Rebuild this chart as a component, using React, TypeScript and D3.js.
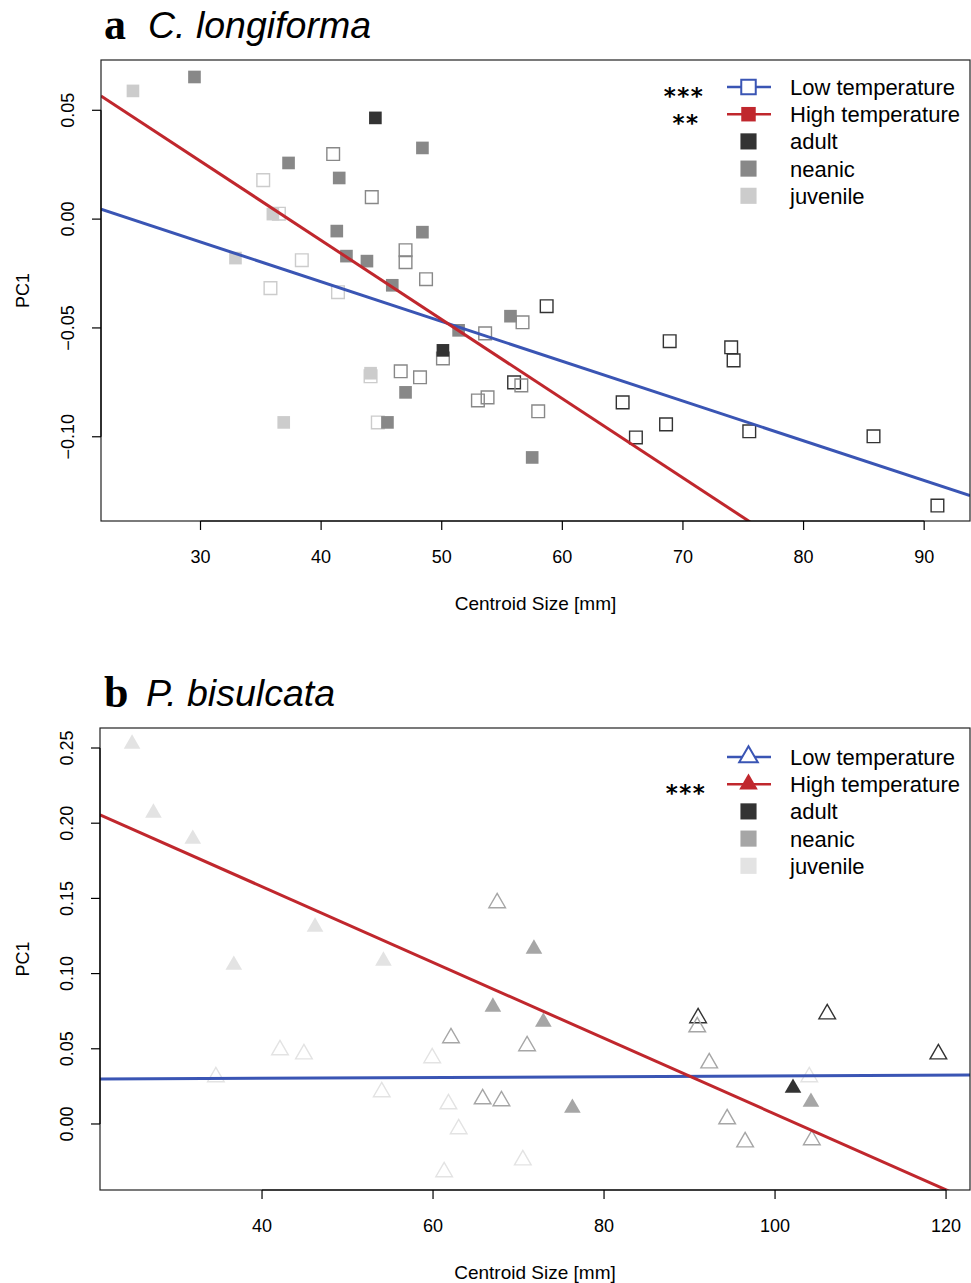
import React from 'react';
import * as d3 from 'd3';

// ---------- Panel a: C. longiforma (squares) ----------
// [centroid size mm, PC1]
const aLowAdult: [number, number][] = [
  [58.7, -0.040], [68.9, -0.0561], [74.0, -0.0589], [74.2, -0.0649], [65.0, -0.0842],
  [66.1, -0.1003], [68.6, -0.0943], [75.5, -0.0975], [85.8, -0.0998], [91.1, -0.1316], [56.0, -0.0750],
];
const aLowNeanic: [number, number][] = [
  [41.0, 0.0299], [44.2, 0.0101], [47.0, -0.0143], [47.0, -0.0198], [48.7, -0.0276],
  [53.6, -0.0525], [56.7, -0.0474], [50.1, -0.0640], [46.6, -0.0699], [48.2, -0.0727],
  [56.6, -0.0764], [53.0, -0.0833], [53.8, -0.0819], [58.0, -0.0883],
];
const aLowJuvenile: [number, number][] = [
  [35.2, 0.0179], [38.4, -0.0189], [35.8, -0.0317], [41.4, -0.0336], [44.7, -0.0934],
  [44.1, -0.0722], [36.5, 0.0025],
];
const aHighAdult: [number, number][] = [[44.5, 0.0465], [50.1, -0.0603]];
const aHighNeanic: [number, number][] = [
  [29.5, 0.0653], [37.3, 0.0258], [41.5, 0.0189], [48.4, 0.0327], [41.3, -0.0055],
  [48.4, -0.006], [42.1, -0.017], [43.8, -0.0193], [45.9, -0.0304], [51.4, -0.0511],
  [55.7, -0.0446], [47.0, -0.0796], [45.5, -0.0934], [57.5, -0.1095],
];
const aHighJuvenile: [number, number][] = [
  [24.4, 0.0589], [36.0, 0.0023], [32.9, -0.0179], [44.1, -0.0708], [36.9, -0.0934],
];
// regression [intercept, slope]
const aLowFit: [number, number] = [0.0443, -0.001827];
const aHighFit: [number, number] = [0.1357, -0.003637];
const aXTicks = [30, 40, 50, 60, 70, 80, 90];
const aYTicks = [0.05, 0.0, -0.05, -0.1];
const aYTickLabels = ['0.05', '0.00', '\u22120.05', '\u22120.10'];
const aSignif = ['***', '**'];

// ---------- Panel b: P. bisulcata (triangles) ----------
const bLowAdult: [number, number][] = [[91.0, 0.0705], [106.1, 0.0731], [119.1, 0.0465]];
const bLowNeanic: [number, number][] = [
  [67.5, 0.147], [62.1, 0.0572], [71.0, 0.0519], [65.8, 0.0166], [68.0, 0.0153],
  [90.9, 0.0645], [92.3, 0.0405], [94.4, 0.0033], [96.5, -0.012], [104.3, -0.0106],
];
const bLowJuvenile: [number, number][] = [
  [42.1, 0.0492], [44.9, 0.0465], [34.6, 0.0313], [59.9, 0.0439], [54.0, 0.0213],
  [61.8, 0.0133], [63.0, -0.0033], [70.5, -0.024], [61.3, -0.0319], [104.0, 0.0313],
];
const bHighAdult: [number, number][] = [[102.1, 0.0239]];
const bHighNeanic: [number, number][] = [
  [71.8, 0.1164], [67.0, 0.0778], [72.9, 0.0678], [76.3, 0.0106], [104.2, 0.0146],
];
const bHighJuvenile: [number, number][] = [
  [24.8, 0.2527], [27.3, 0.2068], [31.9, 0.1895], [46.2, 0.131], [36.7, 0.1057], [54.2, 0.1084],
];
const bLowFit: [number, number] = [0.0293, 0.0000265];
const bHighFit: [number, number] = [0.2586, -0.00252];
const bXTicks = [40, 60, 80, 100, 120];
const bYTicks = [0.0, 0.05, 0.1, 0.15, 0.2, 0.25];
const bYTickLabels = ['0.00', '0.05', '0.10', '0.15', '0.20', '0.25'];
const bSignif = ['', '***'];

const legendLabels = ['Low temperature', 'High temperature', 'adult', 'neanic', 'juvenile'];

const FONT = '"Liberation Sans", Arial, Helvetica, sans-serif';
const BLUE = '#3a55b4';
const RED = '#c0272d';

type Pts = [number, number][];
interface PanelProps {
  letter: string;
  species: string;
  titleY: number;
  box: { l: number; r: number; t: number; b: number };
  xDomain: [number, number];
  yDomain: [number, number];
  xTicks: number[];
  yTicks: number[];
  yTickLabels: string[];
  low: Pts[];
  high: Pts[];
  lowFit: [number, number];
  highFit: [number, number];
  stageColors: string[];
  shape: 'square' | 'triangle';
  signif: string[];
  legendY: number;
  id: string;
}

function Panel(p: PanelProps) {
  const { box } = p;
  const x = d3.scaleLinear().domain(p.xDomain).range([box.l, box.r]);
  const y = d3.scaleLinear().domain(p.yDomain).range([box.b, box.t]);
  const symType = p.shape === 'square' ? d3.symbolSquare : d3.symbolTriangle;
  const symSize = p.shape === 'square' ? 160 : 120;
  const sym = d3.symbol(symType, symSize)()!;
  const legSym = d3.symbol(symType, p.shape === 'square' ? 210 : 150)()!;
  const legSq = d3.symbol(d3.symbolSquare, 260)()!;
  const fitLine = (f: [number, number]) => {
    const [x0, x1] = p.xDomain;
    return d3.line()([
      [x(x0), y(f[0] + f[1] * x0)],
      [x(x1), y(f[0] + f[1] * x1)],
    ])!;
  };
  const rows = p.legendY;
  const rowGap = 27.2;
  const xMid = (box.t + box.b) / 2;
  return (
    <g fontFamily={FONT}>
      <text x={104} y={p.titleY + 1} fontFamily='"Liberation Serif", "DejaVu Serif", serif' fontWeight="bold" fontSize={44}>
        {p.letter}
      </text>
      <text x={p.letter === 'a' ? 148 : 146} y={p.titleY} fontStyle="italic" fontSize={37.5}>
        {p.species}
      </text>
      <defs>
        <clipPath id={'clip' + p.id}>
          <rect x={box.l} y={box.t} width={box.r - box.l} height={box.b - box.t} />
        </clipPath>
      </defs>
      {/* points */}
      <g>
        {p.low.map((pts, si) =>
          pts.map((d, i) => (
            <path key={'l' + si + '-' + i} d={sym} transform={`translate(${x(d[0])},${y(d[1])})`}
              fill="none" stroke={p.stageColors[si]} strokeWidth={1.4} />
          ))
        )}
        {p.high.map((pts, si) =>
          pts.map((d, i) => (
            <path key={'h' + si + '-' + i} d={sym} transform={`translate(${x(d[0])},${y(d[1])})`}
              fill={p.stageColors[si]} stroke="none" />
          ))
        )}
      </g>
      <g clipPath={`url(#clip${p.id})`}>
        <path d={fitLine(p.lowFit)} stroke={BLUE} strokeWidth={3} fill="none" />
        <path d={fitLine(p.highFit)} stroke={RED} strokeWidth={3} fill="none" />
      </g>
      {/* box */}
      <rect x={box.l} y={box.t} width={box.r - box.l} height={box.b - box.t} fill="none" stroke="#222" strokeWidth={1.2} />
      {/* x axis */}
      <line x1={x(p.xTicks[0])} x2={x(p.xTicks[p.xTicks.length - 1])} y1={box.b} y2={box.b} stroke="#000" strokeWidth={1.2} />
      {p.xTicks.map((t) => (
        <g key={'xt' + t}>
          <line x1={x(t)} x2={x(t)} y1={box.b} y2={box.b + 9} stroke="#000" strokeWidth={1.2} />
          <text x={x(t)} y={box.b + 42} textAnchor="middle" fontSize={18}>{t}</text>
        </g>
      ))}
      <text x={(box.l + box.r) / 2} y={box.b + 89} textAnchor="middle" fontSize={19}>Centroid Size [mm]</text>
      {/* y axis */}
      <line x1={box.l} x2={box.l} y1={y(d3.min(p.yTicks)!)} y2={y(d3.max(p.yTicks)!)} stroke="#000" strokeWidth={1.2} />
      {p.yTicks.map((t, i) => (
        <g key={'yt' + i}>
          <line x1={box.l - 9} x2={box.l} y1={y(t)} y2={y(t)} stroke="#000" strokeWidth={1.2} />
          <text transform={`translate(${box.l - 27},${y(t)}) rotate(-90)`} textAnchor="middle" fontSize={18}>
            {p.yTickLabels[i]}
          </text>
        </g>
      ))}
      <text transform={`translate(29,${xMid}) rotate(-90)`} textAnchor="middle" fontSize={18}>PC1</text>
      {/* legend */}
      <g>
        {legendLabels.map((lab, i) => {
          const cy = rows + i * rowGap;
          return (
            <g key={'lg' + i}>
              {i < 2 && (
                <>
                  <line x1={727} x2={771} y1={cy} y2={cy} stroke={i === 0 ? BLUE : RED} strokeWidth={2.5} />
                  <path d={legSym} transform={`translate(748.5,${cy})`}
                    fill={i === 0 ? '#fff' : RED} stroke={i === 0 ? BLUE : 'none'} strokeWidth={2} />
                </>
              )}
              {i >= 2 && (
                <path d={legSq} transform={`translate(748.5,${cy})`} fill={p.stageColors[i - 2]} />
              )}
              <text x={790} y={cy + 8} fontSize={22}>{lab}</text>
            </g>
          );
        })}
        {p.signif.map((s, i) => s ? (
          <text key={'sg' + i} x={i === 0 ? 684 : 686} y={rows + i * rowGap + 17}
            textAnchor="middle" fontSize={23} letterSpacing={1.5} fontWeight="bold"
            fontFamily='"DejaVu Sans", sans-serif'>{s}</text>
        ) : null)}
      </g>
    </g>
  );
}

export default function App() {
  return (
    <svg width={971} height={1283} style={{ position: 'absolute', left: 0, top: 0, background: '#fff' }}>
      <rect width={971} height={1283} fill="#fff" />
      <Panel
        id="a" letter="a" species="C. longiforma" titleY={38}
        box={{ l: 101, r: 970, t: 60, b: 521 }}
        xDomain={[21.75, 93.8]} yDomain={[-0.1387, 0.0731]}
        xTicks={aXTicks} yTicks={aYTicks} yTickLabels={aYTickLabels}
        low={[aLowAdult, aLowNeanic, aLowJuvenile]}
        high={[aHighAdult, aHighNeanic, aHighJuvenile]}
        lowFit={aLowFit} highFit={aHighFit}
        stageColors={['#333333', '#888888', '#cccccc']}
        shape="square" signif={aSignif} legendY={87}
      />
      <Panel
        id="b" letter="b" species="P. bisulcata" titleY={706}
        box={{ l: 100, r: 970, t: 728, b: 1190 }}
        xDomain={[21.05, 122.8]} yDomain={[-0.0439, 0.2633]}
        xTicks={bXTicks} yTicks={bYTicks} yTickLabels={bYTickLabels}
        low={[bLowAdult, bLowNeanic, bLowJuvenile]}
        high={[bHighAdult, bHighNeanic, bHighJuvenile]}
        lowFit={bLowFit} highFit={bHighFit}
        stageColors={['#333333', '#a6a6a6', '#e3e3e3']}
        shape="triangle" signif={bSignif} legendY={757}
      />
    </svg>
  );
}
